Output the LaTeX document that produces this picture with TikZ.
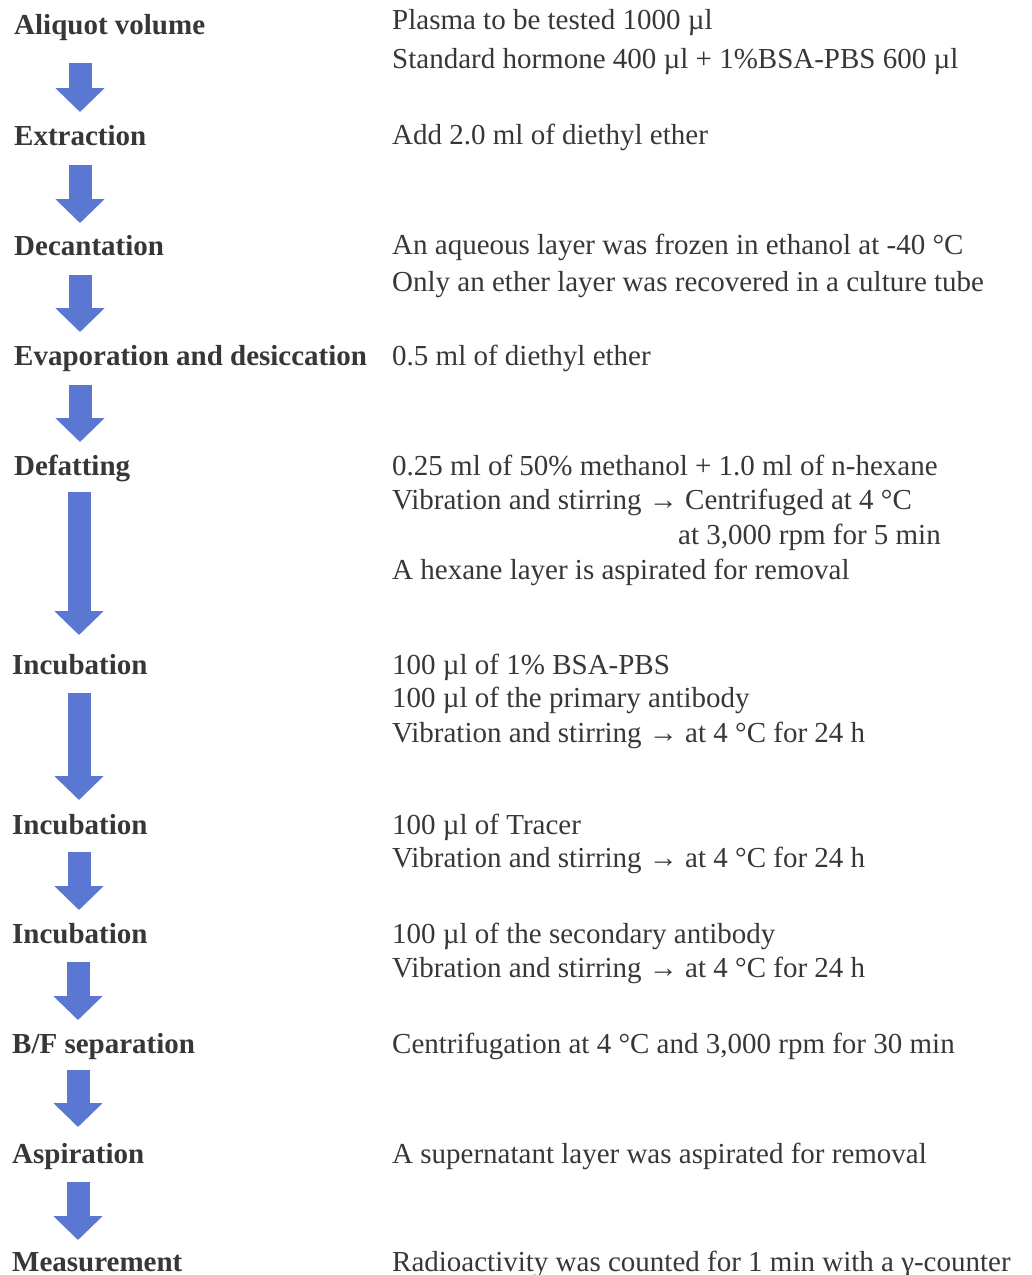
\documentclass[tikz,border=0pt]{standalone}
\usepackage{fontspec}
\setmainfont{Liberation Serif}
\usetikzlibrary{arrows.meta}
\definecolor{arrowblue}{RGB}{90,120,210}
\definecolor{txt}{RGB}{55,55,55}
\tikzset{
  lbl/.style={anchor=base west, inner sep=0pt, font=\fontsize{29}{34}\selectfont\bfseries, text=txt},
  desc/.style={anchor=base west, inner sep=0pt, font=\fontsize{29}{34}\selectfont, text=txt},
  flow/.style={draw=arrowblue, line width=23pt, -{Triangle[width=48pt,length=24pt,fill=arrowblue]}}
}
\begin{document}
\begin{tikzpicture}[x=1pt,y=-1pt]
\useasboundingbox (0,0) rectangle (1032,1275);
% left labels
\node[lbl] (l1) at (14,34) {Aliquot volume};
\node[lbl] (l2) at (14,145) {Extraction};
\node[lbl] (l3) at (14,255) {Decantation};
\node[lbl] (l4) at (14,365) {Evaporation and desiccation};
\node[lbl] (l5) at (14,475) {Defatting};
\node[lbl] (l6) at (12,674) {Incubation};
\node[lbl] (l7) at (12,834) {Incubation};
\node[lbl] (l8) at (12,943) {Incubation};
\node[lbl] (l9) at (12,1053) {B/F separation};
\node[lbl] (l10) at (12,1163) {Aspiration};
\node[lbl] (l11) at (12,1271) {Measurement};
% right descriptions
\node[desc] (d1a) at (392,29) {Plasma to be tested 1000 µl};
\node[desc] (d1b) at (392,68) {Standard hormone 400 µl + 1\%BSA-PBS 600 µl};
\node[desc] (d2) at (392,144) {Add 2.0 ml of diethyl ether};
\node[desc] (d3a) at (392,254) {An aqueous layer was frozen in ethanol at -40 °C};
\node[desc] (d3b) at (392,291) {Only an ether layer was recovered in a culture tube};
\node[desc] (d4) at (392,365) {0.5 ml of diethyl ether};
\node[desc] (d5a) at (392,475) {0.25 ml of 50\% methanol + 1.0 ml of n-hexane};
\node[desc] (d5b) at (392,509) {Vibration and stirring → Centrifuged at 4 °C};
\node[desc] (d5c) at (678,544) {at 3,000 rpm for 5 min};
\node[desc] (d5d) at (392,579) {A hexane layer is aspirated for removal};
\node[desc] (d6a) at (392,674) {100 µl of 1\% BSA-PBS};
\node[desc] (d6b) at (392,707) {100 µl of the primary antibody};
\node[desc] (d6c) at (392,742) {Vibration and stirring → at 4 °C for 24 h};
\node[desc] (d7a) at (392,834) {100 µl of Tracer};
\node[desc] (d7b) at (392,867) {Vibration and stirring → at 4 °C for 24 h};
\node[desc] (d8a) at (392,943) {100 µl of the secondary antibody};
\node[desc] (d8b) at (392,977) {Vibration and stirring → at 4 °C for 24 h};
\node[desc] (d9) at (392,1053) {Centrifugation at 4 °C and 3,000 rpm for 30 min};
\node[desc] (d10) at (392,1163) {A supernatant layer was aspirated for removal};
\node[desc] (d11) at (392,1271) {Radioactivity was counted for 1 min with a γ-counter};
% arrow end points
\coordinate (a1s) at (80,63);   \coordinate (a1e) at (80,112);
\coordinate (a2s) at (80,165);  \coordinate (a2e) at (80,223);
\coordinate (a3s) at (80,275);  \coordinate (a3e) at (80,332);
\coordinate (a4s) at (80,385);  \coordinate (a4e) at (80,442);
\coordinate (a5s) at (79,492);  \coordinate (a5e) at (79,635);
\coordinate (a6s) at (79,693);  \coordinate (a6e) at (79,800);
\coordinate (a7s) at (79,852);  \coordinate (a7e) at (79,910);
\coordinate (a8s) at (78,962);  \coordinate (a8e) at (78,1020);
\coordinate (a9s) at (78,1070); \coordinate (a9e) at (78,1127);
\coordinate (a10s) at (78,1182); \coordinate (a10e) at (78,1240);
\foreach \i in {1,...,10} {\draw[flow] (a\i s) -- (a\i e);}
\end{tikzpicture}
\end{document}
